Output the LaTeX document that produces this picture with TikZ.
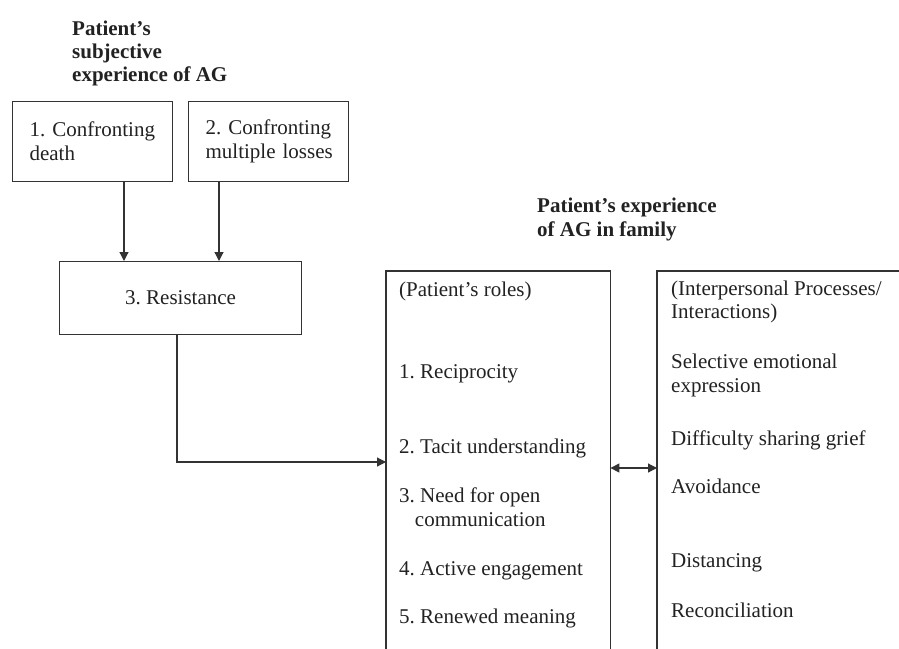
\documentclass[tikz,border=0pt]{standalone}
\usepackage{fontspec}
\setmainfont{Liberation Serif}
\usetikzlibrary{arrows.meta}
\definecolor{ink}{HTML}{222222}
\definecolor{rule}{HTML}{333333}
\frenchspacing
\begin{document}
\begin{tikzpicture}[x=1pt,y=-1pt,
  every node/.style={font=\fontsize{21}{24}\selectfont, text=ink, inner sep=0pt},
  box/.style={draw=rule, line width=1.2pt, rectangle, anchor=north west},
  lbl/.style={anchor=base west},
  ttl/.style={anchor=base west, font=\fontsize{21}{24}\selectfont\bfseries},
  conn/.style={draw=rule, line width=1.2pt},
  arr/.style={conn, -{Triangle[length=9pt,width=9pt]}},
  darr/.style={conn, {Triangle[length=9pt,width=9pt]}-{Triangle[length=9pt,width=9pt]}}]
\useasboundingbox[fill=white] (0,0) rectangle (899,648);

% titles
\node[ttl] (t1a) at (72,35) {Patient’s};
\node[ttl] (t1b) at (72,58) {subjective};
\node[ttl] (t1c) at (72,81) {experience of AG};
\node[ttl] (t2a) at (537,212) {Patient’s experience};
\node[ttl] (t2b) at (537,236) {of AG in family};

% left boxes
\node[box, text width=132pt, inner xsep=14pt, minimum height=80pt, align=left] (b1) at (12,101)
  {\hspace*{3pt}1. Confronting\\\hspace*{3pt}death};
\node[box, text width=132pt, inner xsep=14pt, minimum height=80pt, align=left] (b2) at (188,101)
  {\hspace*{3pt}2. Confronting\\\hspace*{3pt}multiple losses};
\node[box, minimum width=242pt, minimum height=73pt] (b3) at (59,261) {3. Resistance};

% open boxes
\node[anchor=north west, minimum width=224pt, minimum height=390pt] (roles) at (386,271) {};
\draw[conn] (roles.south west) -- (roles.north west) -- (roles.north east) -- (roles.south east);
\node[anchor=north west, minimum width=260pt, minimum height=390pt] (inter) at (657,271) {};
\draw[conn] (inter.south west) -- (inter.north west) -- (inter.north east);

% texts in middle box
\node[lbl] (m0) at (399,296) {(Patient’s roles)};
\node[lbl] (m1) at (399,378) {1. Reciprocity};
\node[lbl] (m2) at (399,453) {2. Tacit understanding};
\node[lbl] (m3a) at (399,502) {3. Need for open};
\node[lbl] (m3b) at (399,526) {\phantom{3.}communication};
\node[lbl] (m4) at (399,575) {4. Active engagement};
\node[lbl] (m5) at (399,623) {5. Renewed meaning};

% texts in right box
\node[lbl] (r0a) at (671,295) {(Interpersonal Processes/};
\node[lbl] (r0b) at (671,318) {Interactions)};
\node[lbl] (r1a) at (671,368) {Selective emotional};
\node[lbl] (r1b) at (671,392) {expression};
\node[lbl] (r2) at (671,445) {Difficulty sharing grief};
\node[lbl] (r3) at (671,493) {Avoidance};
\node[lbl] (r4) at (671,567) {Distancing};
\node[lbl] (r5) at (671,617) {Reconciliation};

% connectors
\coordinate (a1) at ([xshift=112pt]b1.south west);
\coordinate (a2) at ([xshift=31pt]b2.south west);
\draw[arr] (a1) -- (a1 |- b3.north);
\draw[arr] (a2) -- (a2 |- b3.north);
\coordinate (r0) at ([xshift=118pt]b3.south west);
\coordinate (in1) at ([yshift=-191pt]roles.north west);
\draw[arr] (r0) |- (in1);
\coordinate (d1) at ([yshift=-197pt]roles.north east);
\draw[darr] (d1) -- (d1 -| inter.west);
\end{tikzpicture}
\end{document}
